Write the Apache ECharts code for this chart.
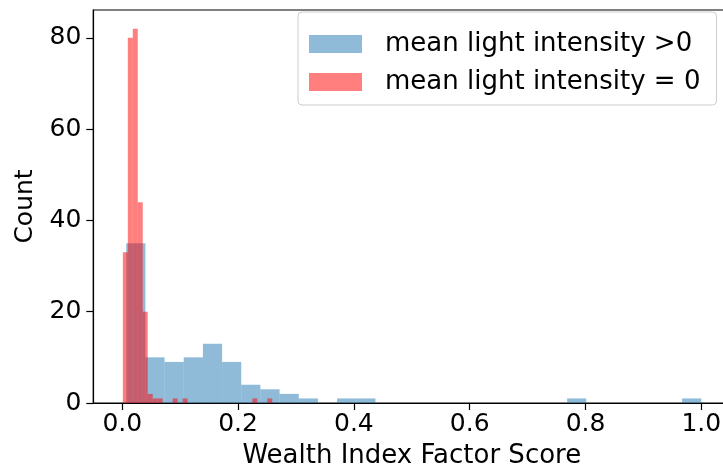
<!DOCTYPE html>
<html>
<head>
<meta charset="utf-8">
<script src="https://cdn.jsdelivr.net/npm/echarts@6/dist/echarts.min.js"></script>
<style>html,body{margin:0;padding:0;background:#fff;}#chart{width:723px;height:474px;}</style>
</head>
<body>
<div id="chart"></div>
<script>
// Histogram bins (30 each)
const blueStart = 0.0069, blueWidth = 0.0331;
const blueCounts = [35,10,9,10,13,9,4,3,2,1,0,1,1,0,0,0,0,0,0,0,0,0,0,1,0,0,0,0,0,1];
const redStart = 0.001, redWidth = 0.0086;
const redCounts = [33,80,82,44,20,2,1,1,0,0,1,0,1,0,0,0,0,0,0,0,0,0,0,0,0,0,1,0,0,1];
const xTicks = [0, 0.2, 0.4, 0.6, 0.8, 1.0];
const yTicks = [0, 20, 40, 60, 80];
const seriesNames = ['mean light intensity >0', 'mean light intensity = 0'];

function bins(start, width, counts) {
  return counts.map((c, i) => [start + i * width, start + (i + 1) * width, c]);
}
function renderBar(params, api) {
  const x0 = api.value(0), x1 = api.value(1), c = api.value(2);
  if (!c) return null;
  const p0 = api.coord([x0, c]);
  const p1 = api.coord([x1, 0]);
  return {
    type: 'rect',
    shape: { x: p0[0], y: p0[1], width: p1[0] - p0[0], height: p1[1] - p0[1] },
    style: { fill: api.visual('color') }
  };
}
const font = 'DejaVu Sans';
const chart = echarts.init(document.getElementById('chart'), null, { renderer: 'canvas' });
chart.setOption({
  animation: false,
  backgroundColor: '#fff',
  textStyle: { fontFamily: font },
  grid: { left: 93.3, top: 10, width: 637, height: 393, show: true, borderColor: '#000', borderWidth: 1.2,
          backgroundColor: 'transparent', containLabel: false, outerBoundsMode: 'none' },
  legend: {
    orient: 'vertical', left: 298, top: 12,
    padding: [17, 16, 8, 11], itemGap: 8,
    itemWidth: 53, itemHeight: 18, icon: 'rect',
    backgroundColor: 'rgba(255,255,255,0.8)', borderColor: '#cccccc', borderWidth: 1, borderRadius: 4,
    textStyle: { fontFamily: font, fontSize: 26, color: '#000', lineHeight: 30, padding: [0, 0, 0, 18] },
    data: seriesNames
  },
  xAxis: {
    type: 'value', min: -0.05, max: 1.05,
    name: 'Wealth Index Factor Score', nameLocation: 'middle', nameGap: 40,
    nameTextStyle: { fontFamily: font, fontSize: 26, color: '#000' },
    splitLine: { show: false },
    axisLine: { show: true, onZero: false, lineStyle: { color: '#000', width: 1.2 } },
    axisTick: { show: true, length: 7, inside: false, customValues: xTicks, lineStyle: { color: '#000', width: 1.2 } },
    axisLabel: { customValues: xTicks, formatter: v => v.toFixed(1), fontFamily: font, fontSize: 25, color: '#000', margin: 9 }
  },
  yAxis: {
    type: 'value', min: 0, max: 86.1,
    name: 'Count', nameLocation: 'middle', nameGap: 55,
    nameTextStyle: { fontFamily: font, fontSize: 25, color: '#000' },
    splitLine: { show: false },
    axisLine: { show: true, onZero: false, lineStyle: { color: '#000', width: 1.2 } },
    axisTick: { show: true, length: 7, inside: false, customValues: yTicks, lineStyle: { color: '#000', width: 1.2 } },
    axisLabel: { customValues: yTicks, fontFamily: font, fontSize: 25, color: '#000', margin: 12 }
  },
  series: [
    { name: seriesNames[0], type: 'custom', renderItem: renderBar, encode: { x: [0, 1], y: 2 },
      itemStyle: { color: 'rgba(31,119,180,0.5)' }, data: bins(blueStart, blueWidth, blueCounts), z: 2 },
    { name: seriesNames[1], type: 'custom', renderItem: renderBar, encode: { x: [0, 1], y: 2 },
      itemStyle: { color: 'rgba(255,0,0,0.5)' }, data: bins(redStart, redWidth, redCounts), z: 3 }
  ]
});
</script>
</body>
</html>
